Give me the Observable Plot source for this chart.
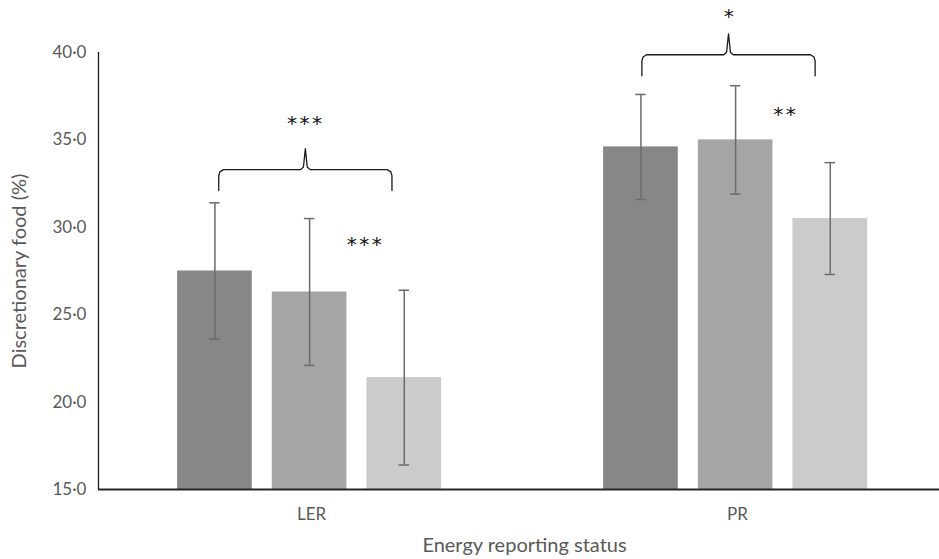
<!DOCTYPE html>
<html>
<head>
<meta charset="utf-8">
<script src="https://cdn.jsdelivr.net/npm/d3@7"></script>
<script src="https://cdn.jsdelivr.net/npm/@observablehq/plot@0.6"></script>
<style>
  body { margin: 0; background: #fff; }
  #chart svg { overflow: visible; }
  #chart g[aria-label="y-axis label"] text,
  #chart g[aria-label="fx-axis label"] text { font-size: 20px; }
  #chart g[aria-label="text"] text { letter-spacing: 2.5px; }
</style>
</head>
<body>
<div id="chart"></div>
<script>
// ---- data ----
const groups = ["LER", "PR"];
const seriesNames = ["Group 1", "Group 2", "Group 3"];
const lerMeans = [27.5, 26.3, 21.4];
const lerErrors = [3.9, 4.2, 5.0];
const prMeans = [34.6, 35.0, 30.5];
const prErrors = [3.0, 3.1, 3.2];
const yTicks = [15, 20, 25, 30, 35, 40];
const barColors = ["#878787", "#a5a5a5", "#cbcbcb"];

// significance braces (x in bar-slot units, y in %)
const braceGroups = ["LER", "PR"];
const braceLeft = [0.54, 0.51];
const braceRight = [2.37, 2.34];
const braceCenter = [1.455, 1.425];
const braceEndY = [32.1, 38.67];
const braceMidY = [33.3, 39.87];
const bracePeakY = [34.5, 41.07];

// significance labels
const annGroups = ["LER", "LER", "PR", "PR"];
const annTexts = ["***", "***", "*", "**"];
const annX = [1.46, 2.09, 1.44, 2.03];
const annY = [36.1, 29.2, 42.2, 36.6];

// ---- build tables ----
const meansByGroup = [lerMeans, prMeans];
const errorsByGroup = [lerErrors, prErrors];
const bars = [];
groups.forEach((g, gi) => seriesNames.forEach((s, si) => {
  bars.push({group: g, series: s, i: si, value: meansByGroup[gi][si], err: errorsByGroup[gi][si]});
}));
const caps = bars.flatMap(d => [{...d, y: d.value - d.err}, {...d, y: d.value + d.err}]);

const bracePts = [];
braceGroups.forEach((g, k) => {
  const xl = braceLeft[k], xr = braceRight[k], xc = braceCenter[k];
  const ye = braceEndY[k], ym = braceMidY[k], yp = bracePeakY[k];
  const shape = [
    [xl, ye], [xl, ym - 0.35], [xl + 0.012, ym - 0.13], [xl + 0.05, ym],
    [xc - 0.05, ym], [xc - 0.02, ym + 0.15], [xc, yp], [xc + 0.02, ym + 0.15], [xc + 0.05, ym],
    [xr - 0.05, ym], [xr - 0.012, ym - 0.13], [xr, ym - 0.35], [xr, ye]
  ];
  shape.forEach(([x, y]) => bracePts.push({group: g, x, y}));
});

const anns = annTexts.map((t, k) => ({group: annGroups[k], text: t, x: annX[k], y: annY[k]}));

const xDomain = [-0.73, 3.77];

const chart = Plot.plot({
  width: 939,
  height: 559,
  marginLeft: 97,
  marginRight: 0,
  marginTop: 52,
  marginBottom: 70,
  style: {fontFamily: "Lato, sans-serif", fontSize: "17px", color: "#595959", background: "white", overflow: "visible"},
  fx: {domain: groups, range: [97, 950], padding: 0, axis: "bottom", tickSize: 0, tickPadding: 18,
       label: "Energy reporting status", labelAnchor: "center", labelOffset: 62},
  x: {domain: xDomain, axis: null},
  y: {domain: [yTicks[0], yTicks[yTicks.length - 1]], ticks: yTicks, tickSize: 0, tickPadding: 12,
      tickFormat: d => d.toFixed(1).replace(".", "\u00B7"),
      label: "Discretionary food (%)", labelAnchor: "center", labelOffset: 87, labelArrow: "none"},
  color: {domain: seriesNames, range: barColors},
  marks: [
    Plot.rectY(bars, {fx: "group", x1: "i", x2: d => d.i + 1, y1: () => yTicks[0], y2: "value",
                      fill: "series", insetLeft: 10, insetRight: 10}),
    Plot.ruleX(bars, {fx: "group", x: d => d.i + 0.5, y1: d => d.value - d.err, y2: d => d.value + d.err,
                      stroke: "#6b6b6b", strokeWidth: 1.5}),
    Plot.ruleY(caps, {fx: "group", x1: d => d.i + 0.5 - 0.055, x2: d => d.i + 0.5 + 0.055, y: "y",
                      stroke: "#6b6b6b", strokeWidth: 1.5}),
    Plot.ruleY([yTicks[0]], {stroke: "#262626", strokeWidth: 1.8}),
    Plot.ruleX([{group: groups[0]}], {fx: "group", x: () => xDomain[0], y1: () => yTicks[0],
                      y2: () => yTicks[yTicks.length - 1], stroke: "#1a1a1a", strokeWidth: 1.3}),
    Plot.line(bracePts, {fx: "group", x: "x", y: "y", z: "group", stroke: "#1a1a1a", strokeWidth: 1.3}),
    Plot.text(anns, {fx: "group", x: "x", y: "y", text: "text", fontFamily: "DejaVu Sans", fontSize: 20,
                     fill: "#111", dy: 3})
  ]
});
document.getElementById("chart").append(chart);
</script>
</body>
</html>
